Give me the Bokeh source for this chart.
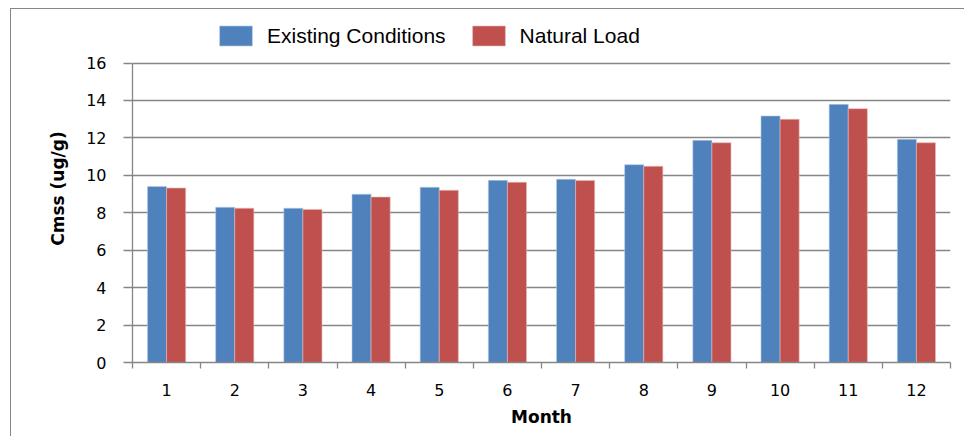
from bokeh.plotting import figure
from bokeh.models import (ColumnDataSource, FixedTicker, Legend, LegendItem, Range1d,
                          InlineStyleSheet)
from bokeh.embed import file_html
from bokeh.resources import INLINE

# ---- data ----
months = [1, 2, 3, 4, 5, 6, 7, 8, 9, 10, 11, 12]
existing = [9.40, 8.29, 8.24, 8.99, 9.36, 9.73, 9.79, 10.57, 11.87, 13.17, 13.79, 11.92]
natural = [9.32, 8.24, 8.18, 8.84, 9.20, 9.63, 9.72, 10.48, 11.74, 12.99, 13.56, 11.74]
y_ticks = [0, 2, 4, 6, 8, 10, 12, 14, 16]
series_names = ["Existing Conditions", "Natural Load"]
x_label = "Month"
y_label = "Cmss (ug/g)"

BLUE = "#4F81BD"
RED = "#C0504D"
GRID = "#868686"
FONT = "DejaVu Sans"

bar_w = 0.28
src = ColumnDataSource(dict(
    x=months,
    xe=[m - bar_w / 2 for m in months],
    xn=[m + bar_w / 2 for m in months],
    existing=existing,
    natural=natural,
))

# layout: the frame is extended upward so the legend sits inside it
W, H = 964, 436
TOP, BOTTOM = 14, 74
frame_h = H - TOP - BOTTOM           # px
axis_px = 299.5                      # px occupied by the y-axis span
y_end = y_ticks[-1] * frame_h / axis_px

p = figure(width=W, height=H, output_backend="svg", toolbar_location=None,
           x_range=Range1d(months[0] - 0.5, months[-1] + 0.5),
           y_range=Range1d(y_ticks[0], y_end),
           min_border_left=132, min_border_right=14,
           min_border_top=TOP, min_border_bottom=BOTTOM)
# outer chart frame (left + top edges) drawn as layered inset shadows
p.stylesheets = [InlineStyleSheet(
    css=":host { box-shadow: inset 10px 8px 0 0 white, inset 11px 9px 0 0 #868686; }")]

r1 = p.vbar(x="xe", top="existing", width=bar_w, source=src,
            fill_color=BLUE, line_color="#B9CDE5", line_width=0.6)
r2 = p.vbar(x="xn", top="natural", width=bar_w, source=src,
            fill_color=RED, line_color="#E6B9B8", line_width=0.6)

p.outline_line_color = None
p.background_fill_color = "white"
p.border_fill_alpha = 0

# grid
p.xgrid.grid_line_color = None
p.ygrid.grid_line_color = GRID
p.ygrid.grid_line_width = 1.3
p.ygrid.ticker = FixedTicker(ticks=y_ticks)

# y axis
ya = p.yaxis[0]
ya.ticker = FixedTicker(ticks=y_ticks)
ya.bounds = (y_ticks[0], y_ticks[-1])
ya.axis_line_color = GRID
ya.axis_line_width = 1.3
ya.major_tick_line_color = GRID
ya.major_tick_line_width = 1.3
ya.major_tick_out = 9
ya.major_tick_in = 0
ya.minor_tick_line_color = None
ya.major_label_text_font = FONT
ya.major_label_text_font_size = "16px"
ya.major_label_text_color = "black"
ya.major_label_standoff = 17
ya.axis_label = y_label
ya.axis_label_text_font = FONT
ya.axis_label_text_font_size = "17px"
ya.axis_label_text_font_style = "bold"
ya.axis_label_text_color = "black"
ya.axis_label_standoff = 15

# x axis
xa = p.xaxis[0]
xa.ticker = FixedTicker(ticks=months,
                        minor_ticks=[m - 0.5 for m in months] + [months[-1] + 0.5])
xa.axis_line_color = GRID
xa.axis_line_width = 1.3
xa.major_tick_line_color = None
xa.minor_tick_line_color = GRID
xa.minor_tick_line_width = 1.3
xa.minor_tick_out = 6
xa.minor_tick_in = 0
xa.major_label_text_font = FONT
xa.major_label_text_font_size = "16px"
xa.major_label_text_color = "black"
xa.major_label_standoff = 15
xa.axis_label = x_label
xa.axis_label_text_font = FONT
xa.axis_label_text_font_size = "17px"
xa.axis_label_text_font_style = "bold"
xa.axis_label_text_color = "black"
xa.axis_label_standoff = 8

# legend (inside the extended frame, above the 16 gridline)
legend = Legend(items=[LegendItem(label=series_names[0], renderers=[r1]),
                       LegendItem(label=series_names[1], renderers=[r2])],
                orientation="horizontal", location=(83, 314),
                glyph_width=41, glyph_height=25, label_standoff=11,
                spacing=22, padding=0, margin=0,
                label_text_font="Liberation Sans", label_text_font_size="21px",
                label_text_color="black",
                border_line_color=None, background_fill_alpha=0)
p.add_layout(legend, "center")

open("out.html", "w").write(file_html(p, INLINE))
